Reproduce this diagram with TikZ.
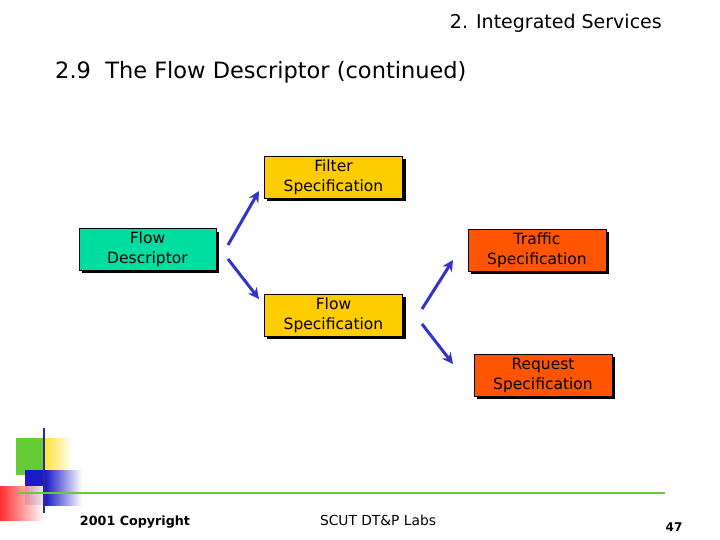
\documentclass[tikz,border=0pt]{standalone}
\usepackage{fontspec}
\setmainfont{DejaVu Sans}
\usetikzlibrary{arrows.meta}
\definecolor{boxg}{HTML}{00DDA0}
\definecolor{boxy}{HTML}{FFCC00}
\definecolor{boxr}{HTML}{FF5500}
\definecolor{arr}{HTML}{3333CC}
\definecolor{lime}{HTML}{66CC33}
\begin{document}
\begin{tikzpicture}[x=1pt,y=-1pt,
  box/.style={draw=black,line width=0.6pt,minimum width=138pt,minimum height=42pt,align=center,font=\fontsize{15.5}{20}\selectfont,inner sep=0pt},
  ar/.style={draw=arr,line width=3pt,-{Stealth[length=11pt,width=11pt]}}]
\useasboundingbox (0,0) rectangle (720,540);
\fill[white] (0,0) rectangle (720,540);
% header
\node[anchor=east,inner sep=0pt,font=\fontsize{19}{22}\selectfont] (hdr) at (662,23) {2. Integrated Services};
\node[anchor=west,inner sep=0pt,font=\fontsize{22.5}{26}\selectfont] (ttl) at (55,72) {2.9\ \ The Flow Descriptor (continued)};
% shadows
\foreach \a/\b/\c/\d in {264/156/403/198,79/229/216/270,264/294/403/336,468/229/606/271,474/354/612/396}
  \fill[black] (\a+3,\b+3) rectangle (\c+3,\d+3);
\node[box,fill=boxy] (filt) at (333.5,177) {Filter\\Specification};
\node[box,fill=boxg,minimum width=137pt] (fd) at (147.5,249.5) {Flow\\Descriptor};
\node[box,fill=boxy] (fs) at (333.5,315) {Flow\\Specification};
\node[box,fill=boxr] (ts) at (537,250) {Traffic\\Specification};
\node[box,fill=boxr] (rs) at (543,375) {Request\\Specification};
% arrows
\coordinate (a1) at (228,245); \coordinate (b1) at (259,191);
\coordinate (a2) at (228,259); \coordinate (b2) at (259,299);
\coordinate (a3) at (422,309); \coordinate (b3) at (453,260);
\coordinate (a4) at (422,324); \coordinate (b4) at (453,364);
\draw[ar] (a1) -- (b1);
\draw[ar] (a2) -- (b2);
\draw[ar] (a3) -- (b3);
\draw[ar] (a4) -- (b4);
% decoration
\shade[left color=yellow!70!orange!80, right color=white] (44,438) rectangle (72,475);
\fill[lime] (16,438) rectangle (44,475);
\shade[left color=blue!75!black!90, right color=white] (45,470) rectangle (82,505);
\fill[blue!75!black!90] (25,470) rectangle (45,505);
\shade[left color=red!90, right color=white, opacity=0.9] (0,486) rectangle (44,520);
\draw[arr!80!black,line width=2pt] (44,428) -- (44,513);
\draw[lime,line width=2.5pt] (18,493) -- (665,493);
\node[font=\bfseries\fontsize{12.7}{14}\selectfont] (cp) at (135,522) {2001 Copyright};
\node[font=\fontsize{13.8}{16}\selectfont] (lab) at (378,520) {SCUT DT\&P Labs};
\node[font=\bfseries\fontsize{12}{14}\selectfont] (pg) at (674,527) {47};
\end{tikzpicture}
\end{document}
